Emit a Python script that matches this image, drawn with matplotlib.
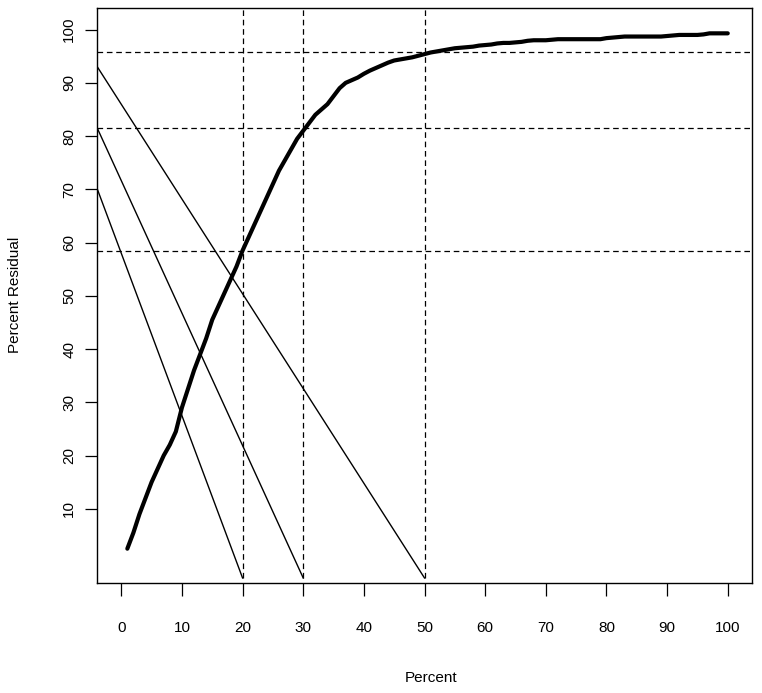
import matplotlib
matplotlib.use("Agg")
import matplotlib.pyplot as plt

# curva acumulada (porcentaje residual vs porcentaje)
pct = list(range(1, 101))
residual = [
    2.5, 5.5, 9, 12, 15, 17.5, 20, 22, 24.5, 29,
    32.5, 36, 39, 42, 45.5, 48, 50.5, 53, 55.5, 58.5,
    61, 63.5, 66, 68.5, 71, 73.5, 75.5, 77.5, 79.5, 81,
    82.5, 84, 85, 86, 87.5, 89, 90, 90.5, 91, 91.7,
    92.3, 92.8, 93.3, 93.8, 94.2, 94.4, 94.6, 94.8, 95.1, 95.4,
    95.7, 95.9, 96.1, 96.3, 96.5, 96.6, 96.7, 96.8, 97.0, 97.1,
    97.2, 97.4, 97.5, 97.5, 97.6, 97.7, 97.9, 98.0, 98.0, 98.0,
    98.1, 98.2, 98.2, 98.2, 98.2, 98.2, 98.2, 98.2, 98.2, 98.4,
    98.5, 98.6, 98.7, 98.7, 98.7, 98.7, 98.7, 98.7, 98.7, 98.8,
    98.9, 99.0, 99.0, 99.0, 99.0, 99.1, 99.3, 99.3, 99.3, 99.3,
]

# cortes verticales y horizontales
v_cuts = [20, 30, 50]
h_cuts = [58.5, 81.6, 95.8]

# rectas diagonales: (x0, y0) -> (x1, y1)
diag_x0 = [-4, -4, -4]
diag_y0 = [70.2, 81.6, 93.1]
diag_x1 = [20, 30, 50]
diag_y1 = [-3, -3, -3]

xticks = list(range(0, 101, 10))
yticks = list(range(10, 101, 10))

plt.rcParams['font.family'] = ['Liberation Sans', 'DejaVu Sans']

fig = plt.figure(figsize=(7.62, 6.93), dpi=100)
ax = fig.add_axes([0.1273, 0.1583, 0.8596, 0.8297])

dash = (0, (4.5, 3))
for h in h_cuts:
    ax.axhline(h, color='black', lw=0.9, linestyle=dash)
for v in v_cuts:
    ax.plot([v, v], [-3, 104], color='black', lw=0.9, linestyle=dash)

for x0, y0, x1, y1 in zip(diag_x0, diag_y0, diag_x1, diag_y1):
    ax.plot([x0, x1], [y0, y1], color='black', lw=1.0)

ax.plot(pct, residual, color='black', lw=3.0, solid_capstyle='round')

ax.set_xlim(-4, 104)
ax.set_ylim(-4, 104)
ax.set_xticks(xticks)
ax.set_yticks(yticks)
ax.tick_params(axis='x', length=9, width=0.9, pad=18, labelsize=11)
ax.tick_params(axis='y', length=9, width=0.9, pad=6, labelsize=11)
for lab in ax.get_yticklabels():
    lab.set_rotation(90)
    lab.set_va('center')
for s in ax.spines.values():
    s.set_linewidth(1.0)

fig.text(431 / 762, 1 - 678 / 693, 'Percent', ha='center', va='center', fontsize=11)
fig.text(15 / 762, 1 - 295 / 693, 'Percent Residual', ha='center', va='center',
         rotation=90, fontsize=11)

plt.savefig('out.png', dpi=100)
